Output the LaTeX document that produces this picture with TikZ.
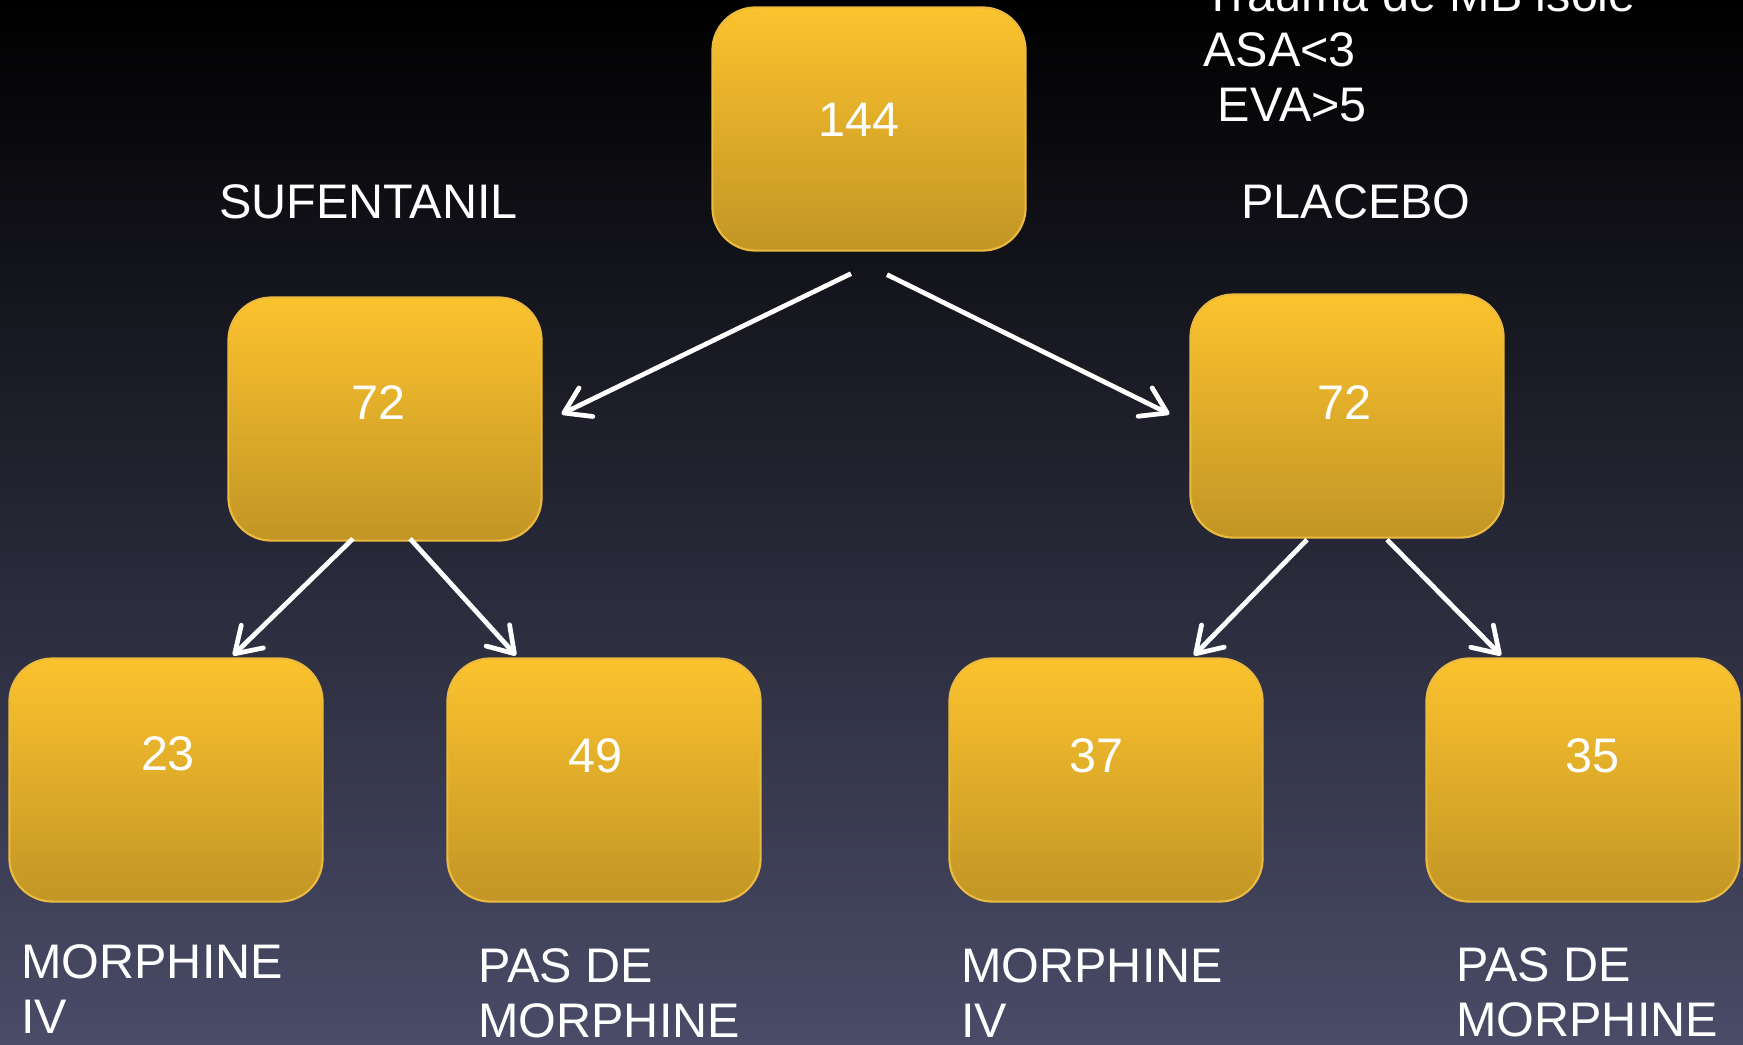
\documentclass[tikz,border=0pt]{standalone}
\usepackage{fontspec}
\setmainfont{Liberation Sans}
\usetikzlibrary{arrows.meta,positioning}

\definecolor{boxtop}{RGB}{252,195,46}
\definecolor{boxbot}{RGB}{194,149,37}
\definecolor{boxline}{RGB}{236,186,62}
\definecolor{bgmid}{RGB}{30,29,48}
\definecolor{bgbot}{RGB}{74,76,104}

\begin{document}
\begin{tikzpicture}[x=0.01cm,y=-0.01cm,->,>={Straight Barb[round,length=7pt,width=9pt]},
        line width=1.35pt,white]
    \tikzstyle{box}=[rectangle,rounded corners=0.43cm,minimum width=3.13cm,minimum height=2.43cm,
        inner sep=0pt,draw=boxline,line width=0.6pt,top color=boxtop,bottom color=boxbot]
    \tikzstyle{num}=[text=white,inner sep=0pt,font=\fontsize{13.8}{15.6}\selectfont]
    \tikzstyle{lbl}=[text=white,inner sep=0pt,align=left,anchor=base west,
        font=\fontsize{13.8}{15.6}\selectfont]

    % background
    \useasboundingbox (0,0) rectangle (1743,1044);
    \shade[top color=black,middle color=bgmid,bottom color=bgbot,draw=none] (0,0) rectangle (1743,1044);

    % boxes
    \node[box] (144) at (869,129)  {};
    \node[box] (72s) at (385,419)  {};
    \node[box] (72p) at (1347,416) {};
    \node[box] (23)  at (166,780)  {};
    \node[box] (49)  at (604,780)  {};
    \node[box] (37)  at (1106,780) {};
    \node[box] (35)  at (1583,780) {};

    \node[num] (n144) at ([shift={(-10,-9)}]144.center) {144};
    \node[num] (n72s) at ([shift={(-7,-16)}]72s.center) {72};
    \node[num] (n72p) at ([shift={(-3,-13)}]72p.center) {72};
    \node[num] (n23)  at ([shift={(2,-26)}]23.center)   {23};
    \node[num] (n49)  at ([shift={(-9,-24)}]49.center)  {49};
    \node[num] (n37)  at ([shift={(-10,-24)}]37.center) {37};
    \node[num] (n35)  at ([shift={(9,-24)}]35.center)   {35};

    % labels (base = last line)
    \node[lbl] (suf)  at (217,218)  {SUFENTANIL};
    \node[lbl] (plac) at (1239,218) {PLACEBO};
    \node[lbl] (crit) at (1201,121) {Trauma de MB isolé\\ASA<3\\\hspace{0.3em}EVA>5};
    \node[lbl] (mv1)  at (19,1033)  {MORPHINE\\IV};
    \node[lbl] (pas1) at (476,1037) {PAS DE\\MORPHINE};
    \node[lbl] (mv2)  at (959,1037) {MORPHINE\\IV};
    \node[lbl] (pas2) at (1454,1036) {PAS DE\\MORPHINE};

    % arrows
    \path ([shift={(-18,22)}]144.south) edge ([shift={(19,-5)}]72s.east)
          ([shift={(18,23)}]144.south)  edge ([shift={(-20,-2)}]72p.west)
          ([shift={(-32,-3)}]72s.south) edge ([shift={(67,-2)}]23.north)
          ([shift={(25,-3)}]72s.south)  edge ([shift={(-88,-2)}]49.north)
          ([shift={(-40,1)}]72p.south)  edge ([shift={(88,-2)}]37.north)
          ([shift={(40,1)}]72p.south)   edge ([shift={(-82,-2)}]35.north);
\end{tikzpicture}
\end{document}
